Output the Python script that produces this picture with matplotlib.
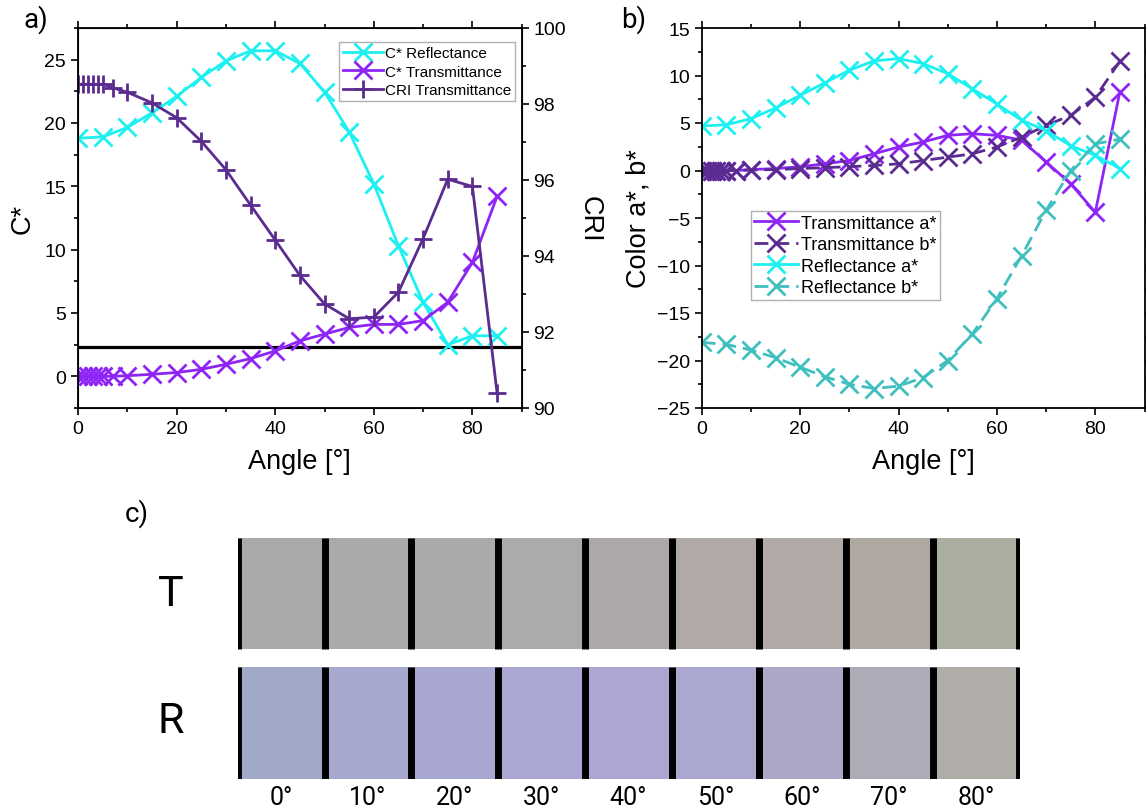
import matplotlib
matplotlib.use("Agg")
import matplotlib.pyplot as plt
from matplotlib.ticker import MultipleLocator

plt.rcParams['font.family'] = ['Liberation Sans', 'DejaVu Sans']

# ---------------- data ----------------
angle_t = [0, 1, 2, 3, 4, 5, 7, 10, 15, 20, 25, 30, 35, 40, 45, 50, 55, 60, 65, 70, 75, 80, 85]
angle_r = [0, 5, 10, 15, 20, 25, 30, 35, 40, 45, 50, 55, 60, 65, 70, 75, 80, 85]

c_refl = [18.8, 18.9, 19.65, 20.8, 22.1, 23.6, 24.9, 25.7, 25.7, 24.7, 22.45, 19.3,
          15.2, 10.3, 5.85, 2.5, 3.2, 3.2]
c_trans = [0, 0, 0, 0, 0, 0, 0, 0.05, 0.16, 0.3, 0.55, 0.95, 1.4, 2.0, 2.8, 3.33,
           3.86, 4.1, 4.1, 4.4, 5.85, 9.0, 14.2]
cri_trans = [98.52, 98.52, 98.52, 98.52, 98.52, 98.52, 98.43, 98.31, 98.03, 97.64,
             97.02, 96.27, 95.34, 94.42, 93.49, 92.74, 92.35, 92.39, 93.05, 94.46,
             96.02, 95.83, 90.4]
jnd_threshold = 2.3

a_trans = [0, 0, 0, 0, 0, 0, 0, 0.1, 0.2, 0.4, 0.7, 1.05, 1.76, 2.47, 3.0, 3.7,
           3.87, 3.7, 3.2, 0.9, -1.4, -4.4, 8.3]
b_trans = [0, 0, 0, 0, 0, 0, 0, 0.05, 0.1, 0.2, 0.3, 0.4, 0.53, 0.7, 1.05, 1.4,
           1.76, 2.47, 3.5, 4.75, 5.8, 7.7, 11.5]
a_refl = [4.68, 4.82, 5.45, 6.58, 7.91, 9.22, 10.55, 11.54, 11.78, 11.25, 10.2, 8.6,
          7.0, 5.3, 4.2, 2.6, 1.6, 0.2]
b_refl = [-18.1, -18.3, -18.9, -19.7, -20.7, -21.7, -22.5, -22.95, -22.7, -21.8,
          -20.0, -17.2, -13.5, -9.0, -4.2, 0.0, 2.8, 3.3]

swatch_angles = [0, 10, 20, 30, 40, 50, 60, 70, 80]
swatch_labels = ['0°', '10°', '20°', '30°', '40°', '50°', '60°', '70°', '80°']
swatch_t = ['#A9A9A9', '#AAAAAA', '#AAAAAA', '#ABABA9', '#ADA8A7', '#B1A9A6',
            '#B2AAA7', '#AFA8A1', '#A9AE9E']
swatch_r = ['#A1A9C9', '#A4A9CD', '#A7A7D1', '#AAA7D4', '#ACA6D5', '#ABA8CF',
            '#AAA8C4', '#AEAAB7', '#B0ACA7']

# ---------------- styles ----------------
CYAN = '#1CF0F0'
PURPLE = '#8E24F5'
DARK = '#5B2C8F'
TEAL = '#40BFBF'
LW = 2.0
MS = 13
MEW = 2.0
TICK_FS = 14
LABEL_FS = 19.5
DASH = (0, (5, 2.5))

W, H = 1146, 812
fig = plt.figure(figsize=(W / 100, H / 100), dpi=100)


def rect(l, t, r, b):
    return [l / W, 1 - b / H, (r - l) / W, (b - t) / H]


def style_axis(ax, left=True, right=True):
    ax.tick_params(which='both', direction='out', labelsize=TICK_FS, width=1.2,
                   top=True, bottom=True, left=left, right=right)
    ax.tick_params(which='major', length=5)
    ax.tick_params(which='minor', length=3)
    for s in ax.spines.values():
        s.set_linewidth(1.3)


# ---------------- panel a ----------------
ax1 = fig.add_axes(rect(78, 29, 521.7, 409))
ax1.axhline(jnd_threshold, color='black', lw=2.3, zorder=3)
l_refl, = ax1.plot(angle_r, c_refl, color=CYAN, lw=LW, marker='x', ms=MS, mew=MEW,
                   label='C* Reflectance', zorder=4)
l_trans, = ax1.plot(angle_t, c_trans, color=PURPLE, lw=LW, marker='x', ms=MS, mew=MEW,
                    label='C* Transmittance', zorder=4)
ax1.set_xlim(0, 90)
ax1.set_ylim(-2.5, 27.5)
ax1.xaxis.set_major_locator(MultipleLocator(20))
ax1.xaxis.set_minor_locator(MultipleLocator(10))
ax1.yaxis.set_major_locator(MultipleLocator(5))
ax1.yaxis.set_minor_locator(MultipleLocator(2.5))
style_axis(ax1, left=True, right=False)
ax1.set_xlabel('Angle [°]', fontsize=LABEL_FS, labelpad=8)
ax1.set_ylabel('C*', fontsize=LABEL_FS, labelpad=6)

ax2 = ax1.twinx()
l_cri, = ax2.plot(angle_t, cri_trans, color=DARK, lw=LW, marker='+', ms=MS, mew=MEW,
                  label='CRI Transmittance')
ax2.set_ylim(90, 100)
ax2.yaxis.set_major_locator(MultipleLocator(2))
ax2.yaxis.set_minor_locator(MultipleLocator(1))
ax2.tick_params(which='both', direction='out', labelsize=TICK_FS, width=1.2,
                left=False, right=True)
ax2.tick_params(which='major', length=5)
ax2.tick_params(which='minor', length=3)
ax2.set_ylabel('CRI', fontsize=LABEL_FS, rotation=270, labelpad=26)

leg_a = ax2.legend(handles=[l_refl, l_trans, l_cri], loc='upper right',
                   bbox_to_anchor=(0.985, 0.962), borderaxespad=0, fontsize=11,
                   fancybox=False, edgecolor='#B0B0B0', framealpha=1,
                   handlelength=2.6, handletextpad=0.15, borderpad=0.25,
                   labelspacing=0.3, markerscale=1.0)
leg_a.get_frame().set_linewidth(1.0)

# ---------------- panel b ----------------
axb = fig.add_axes(rect(701.7, 29, 1144.5, 409))
lb1, = axb.plot(angle_t, a_trans, color=PURPLE, lw=LW, marker='x', ms=MS, mew=MEW,
                label='Transmittance a*')
lb2, = axb.plot(angle_t, b_trans, color=DARK, lw=LW, ls=DASH, marker='x',
                ms=MS, mew=MEW, label='Transmittance b*')
lb3, = axb.plot(angle_r, a_refl, color=CYAN, lw=LW, marker='x', ms=MS, mew=MEW,
                label='Reflectance a*')
lb4, = axb.plot(angle_r, b_refl, color=TEAL, lw=LW, ls=DASH, marker='x',
                ms=MS, mew=MEW, label='Reflectance b*')
axb.set_xlim(0, 90)
axb.set_ylim(-25, 15)
axb.xaxis.set_major_locator(MultipleLocator(20))
axb.xaxis.set_minor_locator(MultipleLocator(10))
axb.yaxis.set_major_locator(MultipleLocator(5))
axb.yaxis.set_minor_locator(MultipleLocator(2.5))
style_axis(axb, left=True, right=True)
axb.set_xlabel('Angle [°]', fontsize=LABEL_FS, labelpad=8)
axb.set_ylabel('Color a*, b*', fontsize=LABEL_FS, labelpad=4)

leg_b = axb.legend(handles=[lb1, lb2, lb3, lb4], loc='upper left',
                   bbox_to_anchor=(0.111, 0.518), borderaxespad=0, fontsize=13,
                   fancybox=False, edgecolor='#B0B0B0', framealpha=1,
                   handlelength=2.4, handletextpad=0.15, borderpad=0.2,
                   labelspacing=0.25, markerscale=1.0)
leg_b.get_frame().set_linewidth(1.0)

# ---------------- panel c ----------------
axc = fig.add_axes(rect(237.7, 538.5, 1019.5, 779.5))
row_h = 1.0
gap = 0.162
t_bottom = row_h + gap
axc.bar(swatch_angles, [row_h] * len(swatch_angles), width=10, bottom=t_bottom,
        color=swatch_t, edgecolor='none')
axc.bar(swatch_angles, [row_h] * len(swatch_angles), width=10, bottom=0,
        color=swatch_r, edgecolor='none')
edges = [a - 5 for a in swatch_angles] + [swatch_angles[-1] + 5]
axc.vlines(edges, t_bottom, t_bottom + row_h, color='black', lw=5.0)
axc.vlines(edges, 0, row_h, color='black', lw=5.0)
axc.set_xlim(-5, 85)
axc.set_ylim(0, t_bottom + row_h)
for s in axc.spines.values():
    s.set_visible(False)
axc.set_yticks([])
axc.set_xticks(swatch_angles)
axc.set_xticklabels(swatch_labels, fontsize=18, family=['Roboto', 'DejaVu Sans'])
axc.tick_params(axis='x', length=0, pad=5)

fig.text(171 / W, 1 - 594 / H, 'T', fontsize=31, ha='center', va='center',
         family=['Roboto', 'DejaVu Sans'])
fig.text(171 / W, 1 - 722 / H, 'R', fontsize=31, ha='center', va='center',
         family=['Roboto', 'DejaVu Sans'])

# panel letters
fig.text(36 / W, 1 - 20 / H, 'a)', fontsize=20, ha='center', va='center',
         family=['Roboto', 'DejaVu Sans'])
fig.text(634 / W, 1 - 20 / H, 'b)', fontsize=20, ha='center', va='center',
         family=['Roboto', 'DejaVu Sans'])
fig.text(137 / W, 1 - 514 / H, 'c)', fontsize=20, ha='center', va='center',
         family=['Roboto', 'DejaVu Sans'])

fig.savefig('out.png', dpi=100)
